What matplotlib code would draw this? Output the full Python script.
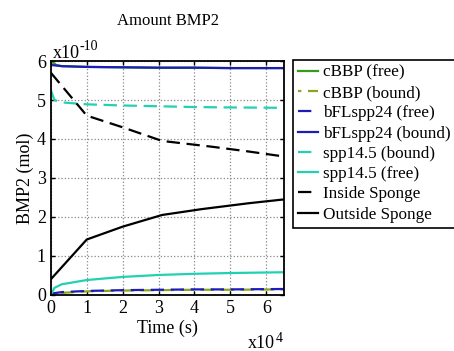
import matplotlib.pyplot as plt
import numpy as np

# time in units of 1e4 s, amounts in units of 1e-10 mol
t_cbbp_free = [0, 0.15, 0.3, 1, 2, 3, 4, 5, 6.5]
cbbp_free = [6.0, 5.9, 5.87, 5.85, 5.84, 5.83, 5.83, 5.82, 5.82]
t_cbbp_bound = [0, 0.3, 1, 2, 3, 4, 5, 6.5]
cbbp_bound = [0.0, 0.05, 0.09, 0.11, 0.12, 0.13, 0.13, 0.14]
t_bfl_free = [0, 0.3, 1, 2, 3, 4, 5, 6.5]
bfl_free = [0.03, 0.07, 0.1, 0.12, 0.13, 0.14, 0.14, 0.15]
t_bfl_bound = [0, 0.3, 1, 2, 3, 4, 5, 6.5]
bfl_bound = [5.9, 5.87, 5.85, 5.84, 5.83, 5.83, 5.82, 5.82]
t_spp_bound = [0, 0.1, 0.3, 1, 2, 3, 4, 5, 6.5]
spp_bound = [5.25, 5.0, 4.94, 4.89, 4.86, 4.84, 4.82, 4.81, 4.8]
t_spp_free = [0, 0.1, 0.3, 1, 2, 3, 4, 5, 6.5]
spp_free = [0.0, 0.18, 0.27, 0.38, 0.46, 0.51, 0.54, 0.56, 0.58]
t_inside = [0, 1, 2, 3.1, 4.5, 5.5, 6.5]
inside = [5.7, 4.6, 4.3, 3.95, 3.8, 3.68, 3.55]
t_outside = [0, 1, 2, 3.1, 4.2, 5.5, 6.5]
outside = [0.4, 1.42, 1.75, 2.05, 2.2, 2.35, 2.45]

labels = ["cBBP (free)", "cBBP (bound)", "bFLspp24 (free)", "bFLspp24 (bound)",
          "spp14.5 (bound)", "spp14.5 (free)", "Inside Sponge", "Outside Sponge"]

plt.rcParams['font.family'] = ['Liberation Serif', 'DejaVu Serif']

fig = plt.figure(figsize=(4.54, 3.51), dpi=100)
ax = fig.add_axes([0.112, 0.160, 0.514, 0.666])

green = "#3a9a1a"
ygreen = "#8aa51e"
blue = "#1c1cb8"
cyan = "#22d0b4"

dash = (0, (6, 3))
series = [
    (t_cbbp_free, cbbp_free, green, "-"),
    (t_cbbp_bound, cbbp_bound, ygreen, (4.5, (6, 3))),
    (t_bfl_free, bfl_free, blue, dash),
    (t_bfl_bound, bfl_bound, blue, "-"),
    (t_spp_bound, spp_bound, cyan, dash),
    (t_spp_free, spp_free, cyan, "-"),
    (t_inside, inside, "black", dash),
    (t_outside, outside, "black", "-"),
]
for (t, v, c, ls), lab in zip(series, labels):
    ax.plot(t, v, color=c, linestyle=ls, linewidth=1.6, label=lab)

ax.set_xlim(0, 6.5)
ax.set_ylim(0, 6)
ax.set_xticks(range(0, 7))
ax.set_yticks(range(0, 7))
ax.tick_params(direction="in", labelsize=13, top=True, right=True, length=3, width=1)
ax.grid(True, linestyle=":", color="#888888", linewidth=0.9)
for s in ax.spines.values():
    s.set_linewidth(1.3)

ax.set_title("Amount BMP2", fontsize=12, pad=26)
ax.set_xlabel("Time (s)", fontsize=13, labelpad=2)
ax.set_ylabel("BMP2 (mol)", fontsize=13, labelpad=2)

# scale factors written like the original plot
fig.text(0.116, 0.834, "x10", fontsize=13, ha="left", va="baseline")
fig.text(0.176, 0.858, "-10", fontsize=10, ha="left", va="baseline")
fig.text(0.545, 0.009, "x10", fontsize=13, ha="left", va="baseline")
fig.text(0.607, 0.027, "4", fontsize=10, ha="left", va="baseline")

leg = ax.legend(loc="upper left", bbox_to_anchor=(0.645, 0.83), bbox_transform=fig.transFigure,
                fontsize=12.3, handlelength=1.2, handletextpad=0.25, borderpad=0.3,
                labelspacing=0.25, borderaxespad=0, fancybox=False, framealpha=1)
leg.get_frame().set_edgecolor("black")
leg.get_frame().set_linewidth(1.2)

fig.savefig("out.png", dpi=100)
